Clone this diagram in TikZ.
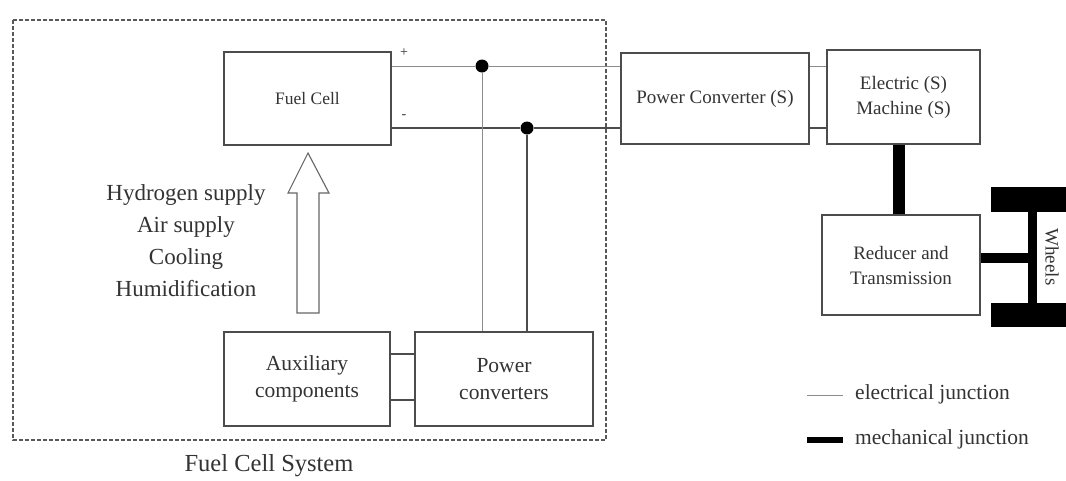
\documentclass[tikz,border=0pt]{standalone}
\usepackage{fontspec}
\setmainfont{Liberation Serif}
\begin{document}
\begin{tikzpicture}[x=1pt,y=-1pt,
  box/.style={draw=black!70,line width=1.1pt,inner sep=0pt,text=black!80,align=center},
  bigtxt/.style={font=\fontsize{21.5}{27}\selectfont},
  smalltxt/.style={font=\fontsize{19}{25}\selectfont},
  eline/.style={draw=black!45,line width=1pt},
  edark/.style={draw=black!70,line width=1.2pt},
  mech/.style={draw=black,line width=11pt},
  dotn/.style={circle,fill=black,inner sep=0pt,minimum size=13pt},
  lbl/.style={text=black!80,inner sep=0pt}]
\useasboundingbox (0,0) rectangle (1066,480);
% dashed system border
\draw[black!65,line width=1.2pt,dash pattern=on 4pt off 2pt] (13,20) rectangle (606,440);
\node[lbl,font=\fontsize{24.5}{28}\selectfont] (sys) at (269,466) {Fuel Cell System};
% boxes
\node[box,font=\fontsize{17.5}{25}\selectfont,minimum width=167pt,minimum height=93pt] (fc) at (307.5,98.5) {Fuel Cell};
\node[box,bigtxt,minimum width=166pt,minimum height=94pt] (aux) at (307,379) {Auxiliary\\components};
\node[box,bigtxt,minimum width=178pt,minimum height=94pt] (pcs) at (504,379) {Power\\converters};
\node[box,smalltxt,minimum width=188pt,minimum height=91pt] (pc) at (715,98.5) {Power Converter (S)};
\node[box,smalltxt,minimum width=153pt,minimum height=94pt] (em) at (903.5,97) {Electric (S)\\Machine (S)};
\node[box,smalltxt,minimum width=158pt,minimum height=100pt] (red) at (901,265) {Reducer and\\Transmission};
% supply text and hollow arrow
\node[lbl,align=center,font=\fontsize{23}{32}\selectfont] (sup) at (186,241) {Hydrogen supply\\Air supply\\Cooling\\Humidification};
\draw[black!60,line width=1.1pt,fill=white] (297,313) -- (297,193) -- (288,193) -- (308,153) -- (329,193) -- (319,193) -- (319,313) -- cycle;
% polarity
\node[lbl,font=\fontsize{14}{14}\selectfont] (plus) at (404,53) {+};
\node[lbl,font=\fontsize{14}{14}\selectfont] (minus) at (404,117) {-};
% junction dots
\node[dotn] (d1) at (482,66) {};
\node[dotn] (d2) at (527,128) {};
% electrical lines
\draw[eline] (fc.east |- d1) -- (d1) -- (pc.west |- d1);
\draw[edark] (fc.east |- d2) -- (d2) -- (pc.west |- d2);
\draw[eline] (d1) -- (d1 |- pcs.north);
\draw[edark] (d2) -- (d2 |- pcs.north);
\draw[eline] (pc.east |- d1) -- (em.west |- d1);
\draw[edark] (pc.east |- d2) -- (em.west |- d2);
\draw[edark] ([yshift=25pt]aux.east) -- ([yshift=25pt]aux.east -| pcs.west);
\draw[edark] ([yshift=-21pt]aux.east) -- ([yshift=-21pt]aux.east -| pcs.west);
% wheels
\fill[black] (991,187) rectangle (1066,212);
\fill[black] (991,303) rectangle (1066,327);
\fill[black] (1028,212) rectangle (1037,303);
\coordinate (wb) at (1032,258);
\node[lbl,rotate=-90,font=\fontsize{19}{19}\selectfont] (wh) at (1052,257) {Wheels};
% mechanical links
\draw[mech,line width=12pt] ([xshift=-4.5pt]em.south) -- ([xshift=-4.5pt]em.south |- red.north);
\draw[mech,line width=10pt] (red.east |- wb) -- (wb);
% legend
\coordinate (l1a) at (807,395); \coordinate (l1b) at (843,395);
\coordinate (l2a) at (807,440); \coordinate (l2b) at (843,440);
\draw[eline] (l1a) -- (l1b);
\draw[black,line width=6pt] (l2a) -- (l2b);
\node[lbl,anchor=west,font=\fontsize{21.5}{24}\selectfont] (le) at (855,394) {electrical junction};
\node[lbl,anchor=west,font=\fontsize{21.5}{24}\selectfont] (lm) at (855,439) {mechanical junction};
\end{tikzpicture}
\end{document}
